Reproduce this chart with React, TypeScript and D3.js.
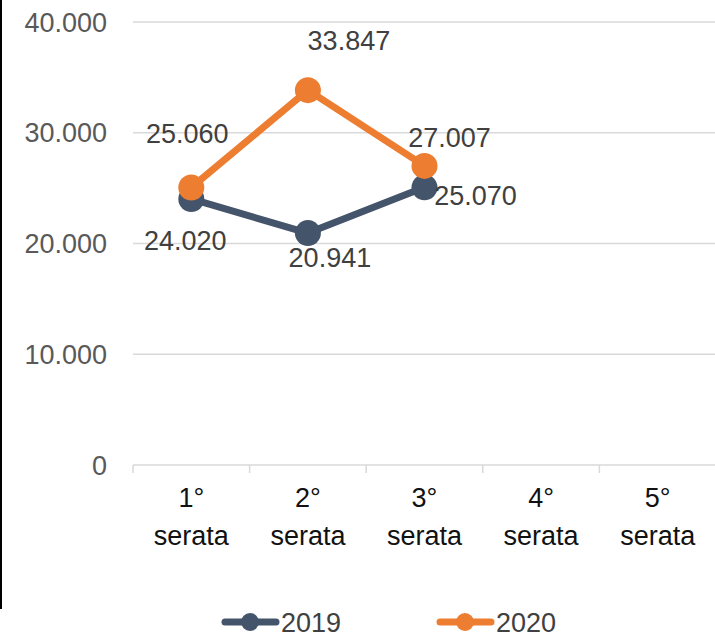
import React, { useEffect, useRef } from 'react';
import * as d3 from 'd3';

// dati
const categories = ['1°|serata', '2°|serata', '3°|serata', '4°|serata', '5°|serata'];
const years = ['2019', '2020'];
const values2019 = [24020, 20941, 25070];
const values2020 = [25060, 33847, 27007];
const yTicks = [0, 10000, 20000, 30000, 40000];

const W = 715;
const H = 639;
const COLORS = ['#44546A', '#ED7D31'];
const FONT = '"Liberation Sans", Arial, sans-serif';

// spostamento delle etichette rispetto al punto (come nell'originale)
const labelShift = [
	[[-6, 41], [22, 24], [51, 8]],
	[[-4, -54], [41, -50], [25, -29]],
];

const fmt = (v: number) => d3.format(',')(v).replace(/,/g, '.');

function LineChart() {
	const svgRef = useRef<SVGSVGElement>(null);

	useEffect(() => {
		const svg = d3.select(svgRef.current);
		svg.selectAll('*').remove();

		const x = d3.scaleBand().domain(categories).range([133, 716]);
		const y = d3.scaleLinear().domain([0, 40000]).range([465, 22]);

		// bordo nero a sinistra
		svg.append('line').attr('x1', 1).attr('x2', 1).attr('y1', 0).attr('y2', 609)
			.attr('stroke', '#000').attr('stroke-width', 2);

		// griglia
		svg.append('g').selectAll('line').data(yTicks).join('line')
			.attr('x1', 133).attr('x2', 716)
			.attr('y1', d => y(d)).attr('y2', d => y(d))
			.attr('stroke', '#d9d9d9').attr('stroke-width', 1.5);

		// tacche asse x
		const bounds = categories.map(c => x(c)!).concat([x.range()[1]]);
		svg.append('g').selectAll('line').data(bounds).join('line')
			.attr('x1', d => d).attr('x2', d => d)
			.attr('y1', y(0)).attr('y2', y(0) + 8)
			.attr('stroke', '#d9d9d9').attr('stroke-width', 1.5);

		// etichette asse y
		svg.append('g').selectAll('text').data(yTicks).join('text')
			.attr('x', 107).attr('y', d => y(d)).attr('dy', '0.36em')
			.attr('text-anchor', 'end')
			.attr('font-family', FONT).attr('font-size', 27).attr('fill', '#595959')
			.text(d => fmt(d));

		// etichette categorie
		const cat = svg.append('g').selectAll('text').data(categories).join('text')
			.attr('text-anchor', 'middle')
			.attr('font-family', FONT).attr('font-size', 27).attr('fill', '#111');
		cat.append('tspan').attr('x', d => x(d)! + x.bandwidth() / 2).attr('y', 507).text(d => d.split('|')[0]);
		cat.append('tspan').attr('x', d => x(d)! + x.bandwidth() / 2).attr('y', 545).text(d => d.split('|')[1]);

		const cx = (i: number) => x(categories[i])! + x.bandwidth() / 2;
		const line = d3.line<number>().x((_, i) => cx(i)).y(d => y(d));

		[values2019, values2020].forEach((vals, s) => {
			const g = svg.append('g');
			g.append('path').datum(vals).attr('d', line)
				.attr('fill', 'none').attr('stroke', COLORS[s]).attr('stroke-width', 7)
				.attr('stroke-linejoin', 'round');
			g.selectAll('circle').data(vals).join('circle')
				.attr('cx', (_, i) => cx(i)).attr('cy', d => y(d)).attr('r', 13)
				.attr('fill', COLORS[s]);
		});

		[values2019, values2020].forEach((vals, s) => {
			svg.append('g').selectAll('text').data(vals).join('text')
				.attr('x', (_, i) => cx(i) + labelShift[s][i][0])
				.attr('y', (d, i) => y(d) + labelShift[s][i][1])
				.attr('dy', '0.36em').attr('text-anchor', 'middle')
				.attr('font-family', FONT).attr('font-size', 27).attr('fill', '#404040')
				.text(d => fmt(d));
		});

		// legenda
		const leg = svg.append('g');
		const legX = [222, 437];
		const legY = 622;
		years.forEach((yr, s) => {
			const lx = legX[s];
			leg.append('line').attr('x1', lx + 3).attr('x2', lx + 54).attr('y1', legY).attr('y2', legY)
				.attr('stroke', COLORS[s]).attr('stroke-width', 7).attr('stroke-linecap', 'round');
			leg.append('circle').attr('cx', lx + 28).attr('cy', legY).attr('r', 9).attr('fill', COLORS[s]);
			leg.append('text').attr('x', lx + 59).attr('y', legY).attr('dy', '0.36em')
				.attr('font-family', FONT).attr('font-size', 27).attr('fill', '#404040').text(yr);
		});
	}, []);

	return <svg ref={svgRef} width={W} height={H} style={{ position: 'absolute', left: 0, top: 0, background: '#fff' }} />;
}

export default function App() {
	return <LineChart />;
}
